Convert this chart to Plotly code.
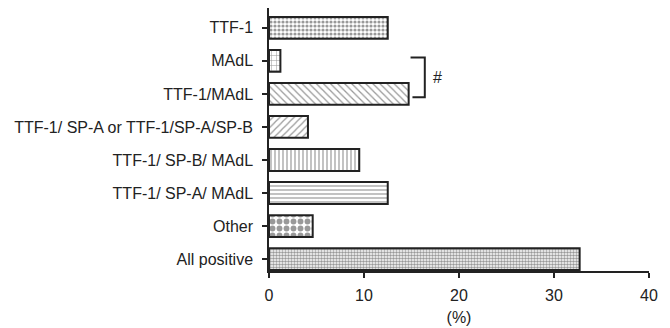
import plotly.graph_objects as go

categories = ["TTF-1", "MAdL", "TTF-1/MAdL", "TTF-1/ SP-A or TTF-1/SP-A/SP-B",
              "TTF-1/ SP-B/ MAdL", "TTF-1/ SP-A/ MAdL", "Other", "All positive"]
values = [12.5, 1.2, 14.7, 4.1, 9.5, 12.5, 4.6, 32.7]
x_ticks = [0, 10, 20, 30, 40]

shapes_pat = [".", "+", "\\", "/", "|", "-", ".", "."]
sizes_pat = [4, 5, 5, 5, 4, 4, 7, 3]
solid_pat = [0.5, 0.2, 0.25, 0.25, 0.3, 0.3, 0.55, 0.55]

fig = go.Figure(go.Bar(
    x=values, y=categories, orientation="h", width=0.66,
    marker=dict(color="white", line=dict(color="#222", width=2),
                pattern=dict(shape=shapes_pat, size=sizes_pat, solidity=solid_pat,
                             fgcolor="#333", bgcolor="white", fillmode="overlay")),
))

font = dict(family="Liberation Sans, Arial, sans-serif", size=16, color="#222")
fig.update_layout(
    width=670, height=328, margin=dict(l=269, r=21, t=8, b=57),
    paper_bgcolor="white", plot_bgcolor="white", showlegend=False, font=font,
)
fig.update_xaxes(range=[0, 40], tickvals=x_ticks, ticks="outside", ticklen=5,
                 tickwidth=1.5, tickcolor="#222", showline=True, linecolor="#222",
                 linewidth=1.5, showgrid=False, zeroline=False, automargin=False,
                 ticklabelstandoff=4,
                 title=dict(text="(%)", font=font, standoff=9))
fig.update_yaxes(categoryorder="array", categoryarray=categories,
                 range=[7.36, -0.6], ticks="outside", ticklen=5, tickwidth=1.5,
                 tickcolor="#222", showline=True, linecolor="#222", linewidth=1.5,
                 showgrid=False, zeroline=False, automargin=False,
                 ticklabelstandoff=6)

# significance bracket between MAdL and TTF-1/MAdL
bx = max(values[1], values[2]) + 1.7
fig.add_shape(type="path", xref="x", yref="y",
              path=f"M {values[2]+0.2},0.9 L {bx},0.9 L {bx},2.1 L {values[2]+0.4},2.1",
              line=dict(color="#222", width=2))
fig.add_annotation(x=bx + 0.6, y=1.5, text="#", showarrow=False, xanchor="left",
                   font=dict(family="Liberation Sans, Arial, sans-serif", size=16, color="#222"))

fig.write_html("out.html", config={"displayModeBar": False},
               post_script="document.body.style.margin='0';")
